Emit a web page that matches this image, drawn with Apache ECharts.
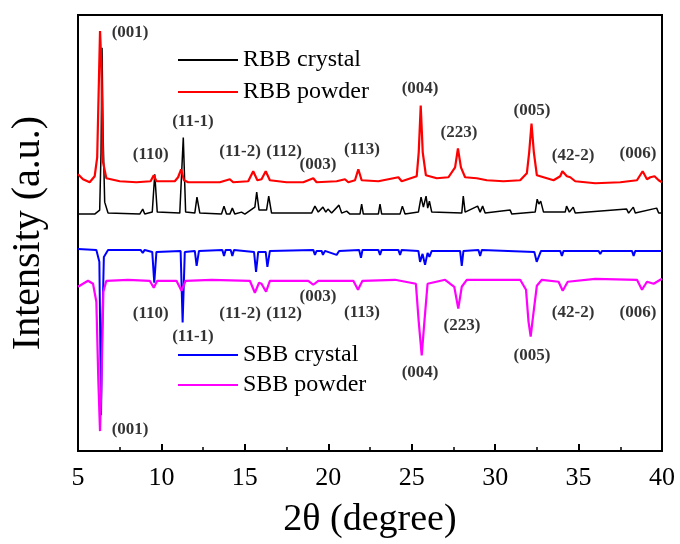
<!DOCTYPE html>
<html>
<head>
<meta charset="utf-8">
<script src="https://cdn.jsdelivr.net/npm/echarts@6/dist/echarts.min.js"></script>
<style>html,body{margin:0;padding:0;background:#fff}#c{width:680px;height:544px}</style>
</head>
<body>
<div id="c"></div>
<script>
// 2θ (degree) vs intensity (a.u., curves stacked with offsets)
const rbbPowder = [[5.0,278],[5.3,273],[5.7,270],[6.0,276],[6.15,295],[6.25,370],[6.32,422],[6.4,390],[6.5,290],[6.7,274],[7.5,271],[8.5,270],[9.35,271],[9.54,277],[9.7,271],[10.8,271],[11.0,275],[11.18,283],[11.35,272],[11.6,270],[12.5,270],[13.5,270],[14.1,273],[14.3,270],[15.2,271],[15.5,281],[15.75,272],[16.0,273],[16.25,281],[16.5,272],[17.5,270],[18.5,270],[19.1,274],[19.3,270],[20.5,271],[21.0,273],[21.2,270],[21.6,272],[21.8,283],[22.0,272],[23.0,271],[24.2,275],[24.4,271],[25.3,276],[25.42,300],[25.54,347],[25.66,300],[25.85,277],[26.5,274],[27.2,275],[27.6,285],[27.77,304],[27.95,285],[28.2,275],[28.9,274],[29.5,272],[30.5,271],[31.5,272],[31.9,279],[32.04,300],[32.18,329],[32.32,300],[32.5,277],[33.5,272],[33.9,276],[34.03,281],[34.3,276],[34.5,275],[34.8,271],[36.0,269],[37.5,270],[38.5,272],[38.84,281],[39.1,273],[39.3,275],[39.55,276],[39.8,272],[40.0,270]];
const rbbCrystal = [[5.0,238],[6.0,238],[6.3,242],[6.38,300],[6.44,405],[6.5,320],[6.6,250],[6.8,239],[8.7,238],[8.88,243],[9.0,238],[9.45,240],[9.6,278],[9.75,240],[11.1,239],[11.31,315],[11.45,240],[12.0,239],[12.13,255],[12.3,239],[13.6,238],[13.75,246],[13.9,238],[14.1,238],[14.25,244],[14.4,238],[14.8,240],[15.0,238],[15.6,245],[15.71,260],[15.85,242],[16.3,242],[16.43,256],[16.6,239],[19.0,239],[19.2,246],[19.4,240],[19.68,245],[19.85,240],[19.98,243],[20.2,239],[20.64,247],[20.8,239],[21.1,241],[21.3,238],[21.9,238],[22.0,248],[22.1,238],[23.0,238],[23.1,248],[23.2,238],[24.3,238],[24.44,246],[24.6,238],[25.4,240],[25.56,255],[25.7,245],[25.86,256],[25.96,244],[26.06,251],[26.2,240],[28.0,239],[28.09,256],[28.2,240],[28.95,246],[29.1,240],[29.25,246],[29.4,239],[30.9,242],[31.0,238],[32.4,240],[32.52,253],[32.62,248],[32.73,251],[32.9,240],[34.2,240],[34.28,246],[34.45,240],[34.68,245],[34.8,239],[37.88,243],[38.0,239],[38.28,245],[38.4,239],[39.68,244],[39.8,239],[40.0,239]];
const sbbCrystal = [[5.0,203],[6.1,202],[6.28,190],[6.33,120],[6.38,36],[6.45,120],[6.55,195],[6.8,202],[8.75,202],[8.88,199],[9.0,202],[9.45,200],[9.57,169],[9.7,200],[11.15,201],[11.27,129],[11.4,200],[12.0,201],[12.11,186],[12.25,201],[13.65,202],[13.75,196],[13.85,202],[14.15,202],[14.25,196],[14.35,202],[15.55,200],[15.67,180],[15.8,200],[16.25,200],[16.35,185],[16.5,201],[19.1,202],[19.2,197],[19.3,201],[19.6,201],[19.68,197],[19.8,201],[20.5,197],[20.65,201],[21.85,202],[21.96,194],[22.05,202],[23.0,202],[23.1,197],[23.2,202],[24.2,202],[24.3,197],[24.4,202],[25.4,201],[25.5,190],[25.65,198],[25.8,187],[25.95,199],[26.06,195],[26.2,201],[27.9,201],[28.0,186],[28.1,201],[29.0,202],[29.1,196],[29.2,202],[32.35,200],[32.49,190],[32.6,190],[32.75,201],[33.9,201],[34.0,196],[34.1,201],[36.2,201],[36.3,198],[36.4,201],[38.2,201],[38.3,196],[38.4,201],[40.0,201]];
const sbbPowder = [[5.0,165],[5.3,168],[5.6,171],[5.9,168],[6.1,150],[6.22,70],[6.32,20],[6.42,80],[6.52,160],[6.7,171],[8.0,172],[9.3,171],[9.54,164],[9.75,171],[10.9,171],[11.2,161],[11.45,171],[13.0,172],[15.3,171],[15.6,159],[15.85,169],[16.0,168],[16.27,160],[16.5,171],[18.8,171],[19.1,167],[19.4,171],[21.5,171],[21.78,162],[22.05,171],[24.0,172],[25.25,168],[25.42,130],[25.6,96],[25.76,130],[25.95,168],[27.0,172],[27.55,165],[27.79,143],[28.0,165],[28.3,172],[31.5,172],[31.85,162],[32.0,130],[32.13,115],[32.27,135],[32.5,166],[32.8,172],[33.8,170],[34.05,161],[34.35,170],[36.0,173],[38.5,172],[38.8,162],[39.1,170],[39.5,168],[40.0,173]];
const topLabels = [[8.12,420,'(001)'],[9.36,298,'(110)'],[11.89,331,'(11-1)'],[14.71,301,'(11-2)'],[17.35,301,'(112)'],[19.38,288,'(003)'],[22.02,303,'(113)'],[25.5,364,'(004)'],[27.83,320,'(223)'],[32.21,342,'(005)'],[34.67,297,'(42-2)'],[38.56,299,'(006)']];
const bottomLabels = [[8.12,21,'(001)'],[9.36,138,'(110)'],[11.89,115,'(11-1)'],[14.71,138,'(11-2)'],[17.35,138,'(112)'],[19.38,155,'(003)'],[22.02,139,'(113)'],[25.5,79,'(004)'],[28.01,126,'(223)'],[32.21,96,'(005)'],[34.67,139,'(42-2)'],[38.56,139,'(006)']];
const xTicks = [5,10,15,20,25,30,35,40];

const serif = "'Liberation Serif','Times New Roman',serif";
const chart = echarts.init(document.getElementById('c'));
const lineS = (name, data, color, w) => ({
  name, type:'line', data, showSymbol:false, symbol:'none', lineStyle:{color, width:w}, itemStyle:{color}, silent:true, z:3
});
const labelS = (arr) => ({
  type:'scatter', symbolSize:1, itemStyle:{color:'rgba(0,0,0,0)'}, silent:true, z:5,
  data: arr.map(d => ({value:[d[0], d[1]], name:d[2]})),
  label:{show:true, position:'inside', formatter:'{b}', color:'#000', fontFamily:serif, fontWeight:'bold', fontSize:17}
});
chart.setOption({
  animation:false,
  backgroundColor:'#fff',
  grid:{left:78, right:18, top:15, bottom:91, show:true, borderColor:'#000', borderWidth:2, backgroundColor:'transparent'},
  xAxis:{type:'value', min:5, max:40, interval:5,
    axisLine:{show:true, lineStyle:{color:'#000', width:2}},
    axisTick:{show:true, inside:true, length:7, lineStyle:{color:'#000', width:2}},
    minorTick:{show:true, splitNumber:2, length:4, lineStyle:{color:'#000', width:1.5}},
    splitLine:{show:false},
    axisLabel:{color:'#000', fontFamily:serif, fontSize:26, margin:14, formatter:v => xTicks.includes(v) ? String(v) : ''},
    name:'2θ (degree)', nameLocation:'middle', nameGap:50,
    nameTextStyle:{color:'#000', fontFamily:serif, fontSize:38}
  },
  yAxis:{type:'value', min:0, max:438,
    axisLine:{show:true, lineStyle:{color:'#000', width:2}},
    axisTick:{show:false}, axisLabel:{show:false}, splitLine:{show:false},
    name:'Intensity (a.u.)', nameLocation:'middle', nameGap:30, nameRotate:90,
    nameTextStyle:{color:'#000', fontFamily:serif, fontSize:40}
  },
  legend:[
    {data:['RBB crystal','RBB powder'], orient:'vertical', left:178, top:48, padding:0, itemGap:8, itemWidth:60, itemHeight:2, icon:'rect',
     textStyle:{color:'#000', fontFamily:serif, fontSize:24, lineHeight:24}, selectedMode:false},
    {data:['SBB crystal','SBB powder'], orient:'vertical', left:178, top:343, padding:0, itemGap:6, itemWidth:60, itemHeight:2, icon:'rect',
     textStyle:{color:'#000', fontFamily:serif, fontSize:24, lineHeight:24}, selectedMode:false}
  ],
  series:[
    lineS('RBB crystal', rbbCrystal, '#000000', 1.5),
    lineS('RBB powder', rbbPowder, '#ff0000', 2.2),
    lineS('SBB crystal', sbbCrystal, '#0000ff', 2),
    lineS('SBB powder', sbbPowder, '#ff00ff', 2.2),
    labelS(topLabels),
    labelS(bottomLabels)
  ]
});
</script>
</body>
</html>
